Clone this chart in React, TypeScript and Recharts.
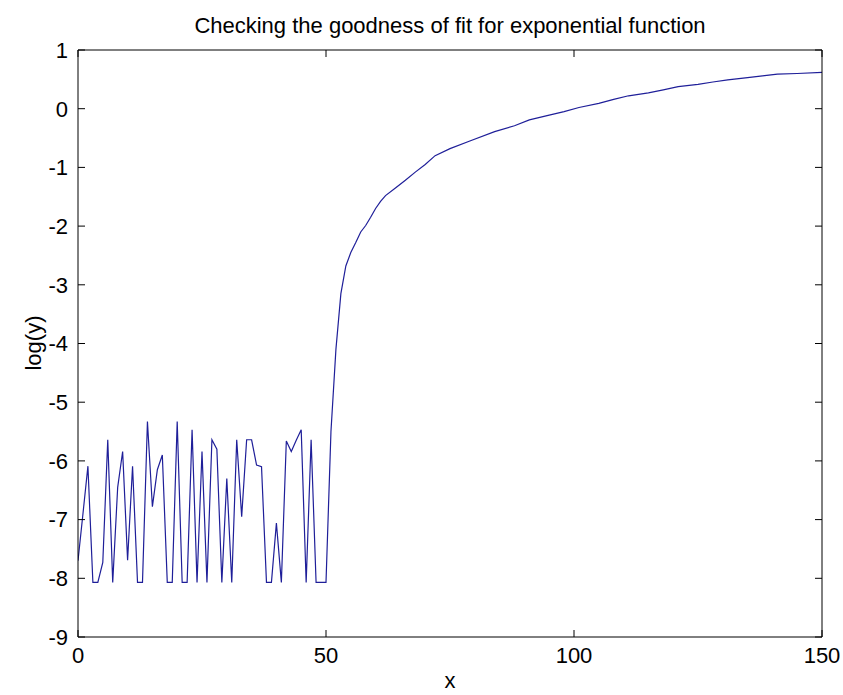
import { LineChart, Line, XAxis, YAxis } from 'recharts';

// x positions (noisy part is one point per unit, smooth tail is sampled sparser)
const xValues = [
    0, 1, 2, 3, 4, 5, 6, 7, 8, 9, 10, 11, 12, 13, 14, 15, 16, 17, 18, 19,
    20, 21, 22, 23, 24, 25, 26, 27, 28, 29, 30, 31, 32, 33, 34, 35, 36, 37, 38, 39,
    40, 41, 42, 43, 44, 45, 46, 47, 48, 49, 50, 51,
    52, 53, 54, 55, 56, 57, 58, 59, 60, 61, 62, 64, 66, 68, 70, 72, 75, 79,
    84, 88, 91, 95, 98, 101, 105, 108, 111, 115, 118, 121, 125, 128, 131, 135, 138, 141, 145, 150,
];

const logY = [
    -7.7, -6.9, -6.09, -8.07, -8.07, -7.73, -5.64, -8.07, -6.45, -5.84, -7.69, -6.09, -8.07, -8.07, -5.33, -6.78, -6.15, -5.9, -8.07, -8.07,
    -5.33, -8.07, -8.07, -5.47, -8.07, -5.84, -8.07, -5.64, -5.8, -8.07, -6.3, -8.07, -5.64, -6.95, -5.64, -5.64, -6.07, -6.1, -8.07, -8.07,
    -7.06, -8.07, -5.66, -5.84, -5.65, -5.47, -8.07, -5.64, -8.07, -8.07, -8.07, -5.5,
    -4.1, -3.15, -2.68, -2.45, -2.28, -2.1, -1.99, -1.85, -1.7, -1.58, -1.48, -1.35, -1.22, -1.08, -0.95, -0.8, -0.68, -0.55,
    -0.39, -0.29, -0.19, -0.11, -0.05, 0.02, 0.09, 0.16, 0.22, 0.27, 0.32, 0.375, 0.415, 0.455, 0.49, 0.53, 0.56, 0.59, 0.6, 0.62,
];

const xTicks = [0, 50, 100, 150];
const yTicks = [-9, -8, -7, -6, -5, -4, -3, -2, -1, 0, 1];

const title = 'Checking the goodness of fit for exponential function';
const xLabel = 'x';
const yLabel = 'log(y)';

const font = "'Liberation Sans', Arial, Helvetica, sans-serif";
const tickStyle = { fontSize: 22, fill: '#000', fontFamily: font };
const noLabel = () => <g />;

export default function App() {
    const data = xValues.map((x, i) => ({ x, y: logY[i] }));

    return (
        <div style={{ position: 'absolute', left: 0, top: 0, width: 843, height: 695, background: '#fff', fontFamily: font, color: '#000' }}>
            <div style={{ position: 'absolute', left: 150, width: 600, top: 13, textAlign: 'center', fontSize: 22 }}>
                {title}
            </div>
            <div style={{ position: 'absolute', left: 400, width: 100, top: 668, textAlign: 'center', fontSize: 22 }}>
                {xLabel}
            </div>
            <div
                style={{
                    position: 'absolute', left: -26, top: 330, width: 120, height: 26, lineHeight: '26px',
                    textAlign: 'center', fontSize: 22, transform: 'rotate(-90deg)',
                }}
            >
                {yLabel}
            </div>
            <LineChart width={843} height={695} data={data} margin={{ top: 49, right: 20, bottom: 0, left: 0 }}>
                <XAxis
                    dataKey="x"
                    type="number"
                    domain={[0, 150]}
                    ticks={xTicks}
                    interval={0}
                    height={58}
                    tickSize={-7}
                    tickMargin={17}
                    tick={tickStyle}
                    stroke="#000"
                    allowDataOverflow
                />
                {/* top and right axes: 1px wide so they still get drawn */}
                <XAxis
                    xAxisId="top"
                    orientation="top"
                    dataKey="x"
                    type="number"
                    domain={[0, 150]}
                    ticks={xTicks}
                    interval={0}
                    height={1}
                    tickSize={-7}
                    tick={noLabel}
                    stroke="#000"
                    allowDataOverflow
                />
                <YAxis
                    type="number"
                    domain={[-9, 1]}
                    ticks={yTicks}
                    interval={0}
                    width={78}
                    tickSize={-7}
                    tickMargin={17}
                    tick={tickStyle}
                    stroke="#000"
                    allowDataOverflow
                />
                <YAxis
                    yAxisId="right"
                    orientation="right"
                    type="number"
                    domain={[-9, 1]}
                    ticks={yTicks}
                    interval={0}
                    width={1}
                    tickSize={-7}
                    tick={noLabel}
                    stroke="#000"
                    allowDataOverflow
                />
                <Line xAxisId="top" yAxisId="right" type="linear" dataKey="y" stroke="none" dot={false} activeDot={false} isAnimationActive={false} legendType="none" />
                <Line type="linear" dataKey="y" stroke="#1f1f99" strokeWidth={1.2} dot={false} isAnimationActive={false} />
            </LineChart>
        </div>
    );
}
